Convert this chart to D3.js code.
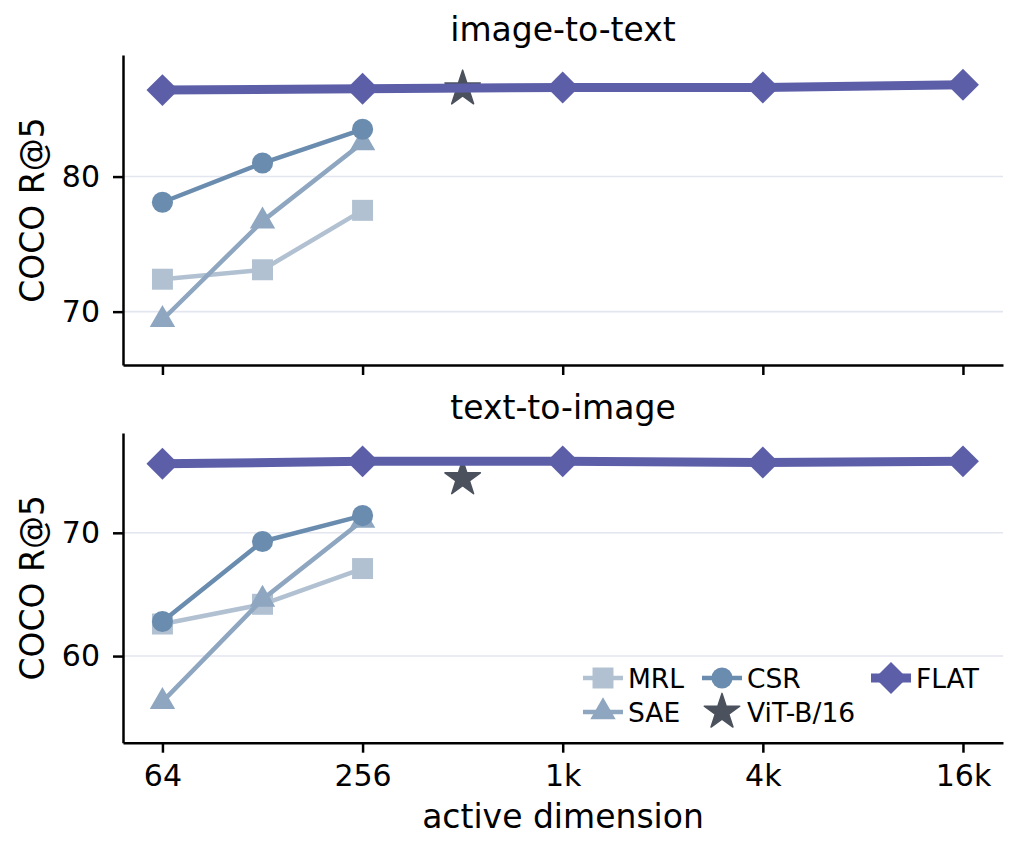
<!DOCTYPE html>
<html>
<head>
<meta charset="utf-8">
<script src="https://cdn.jsdelivr.net/npm/d3@7"></script>
<style>
  html, body { margin: 0; padding: 0; background: #fff; }
  svg text { font-family: "DejaVu Sans", sans-serif; fill: #000; }
</style>
</head>
<body>
<script>
// dimensions on the x axis
const sparseDims = [64, 128, 256];
const flatDims = [64, 256, 1024, 4096, 16384];
const vitDim = 512;
const xTicks = [64, 256, 1024, 4096, 16384];
const xTickLabels = ['64', '256', '1k', '4k', '16k'];

// image-to-text COCO R@5
const i2tMRL = [72.4, 73.1, 77.5];
const i2tSAE = [69.4, 76.7, 82.5];
const i2tCSR = [78.1, 81.0, 83.5];
const i2tFLAT = [86.4, 86.5, 86.6, 86.6, 86.8];
const i2tViT = 86.5;

// text-to-image COCO R@5
const t2iMRL = [62.6, 64.2, 67.1];
const t2iSAE = [56.3, 64.6, 71.0];
const t2iCSR = [62.8, 69.3, 71.4];
const t2iFLAT = [75.6, 75.8, 75.8, 75.7, 75.8];
const t2iViT = 74.4;

const yTicksTop = [70, 80];
const yTicksBottom = [60, 70];

const W = 1020, H = 858;
const left = 123, right = 1003;

const colors = {
  MRL: '#b1c1d2',
  SAE: '#8ea6c0',
  CSR: '#6a8cae',
  ViT: '#4b525e',
  FLAT: '#5c5fa8'
};

const svg = d3.select('body').append('svg').attr('width', W).attr('height', H);

const x = d3.scaleLog().base(2).domain([48.7, 21619]).range([left, right]);

const symbols = {
  MRL: { type: d3.symbolSquare, size: 440, rot: 0 },
  SAE: { type: d3.symbolTriangle, size: 280, rot: 0 },
  CSR: { type: d3.symbolCircle, size: 350, rot: 0 },
  ViT: { type: d3.symbolStar, size: 390, rot: 0 },
  FLAT: { type: d3.symbolSquare, size: 510, rot: 45 }
};

function drawSeries(g, y, name, dims, vals, lw) {
  const pts = dims.map((d, i) => [d, vals[i]]);
  if (lw > 0) {
    g.append('path')
     .attr('d', d3.line().x(d => x(d[0])).y(d => y(d[1]))(pts))
     .attr('fill', 'none')
     .attr('stroke', colors[name])
     .attr('stroke-width', lw)
     .attr('stroke-linejoin', 'round');
  }
  const s = symbols[name];
  g.selectAll(null)
   .data(pts)
   .enter()
   .append('path')
   .attr('d', d3.symbol().type(s.type).size(s.size))
   .attr('transform', d => 'translate(' + x(d[0]) + ',' + y(d[1]) + ') rotate(' + s.rot + ')')
   .attr('fill', colors[name])
   .attr('stroke', colors[name])
   .attr('stroke-width', name === 'ViT' ? 1.5 : 0)
   .attr('stroke-linejoin', 'round');
}

function panel(top, bottom, domain, yTicks, title, data, showX) {
  const y = d3.scaleLinear().domain(domain).range([bottom, top]);
  const g = svg.append('g');

  // grid
  g.selectAll(null)
   .data(yTicks)
   .enter()
   .append('line')
   .attr('x1', left).attr('x2', right)
   .attr('y1', d => y(d)).attr('y2', d => y(d))
   .attr('stroke', '#e4e6ef')
   .attr('stroke-width', 1.6);

  drawSeries(g, y, 'MRL', sparseDims, data.MRL, 4.5);
  drawSeries(g, y, 'SAE', sparseDims, data.SAE, 4.5);
  drawSeries(g, y, 'CSR', sparseDims, data.CSR, 4.5);
  drawSeries(g, y, 'ViT', [vitDim], [data.ViT], 0);
  drawSeries(g, y, 'FLAT', flatDims, data.FLAT, 9);

  const yAxis = d3.axisLeft(y).tickValues(yTicks).tickSize(10).tickPadding(13).tickSizeOuter(0);
  const ya = g.append('g').attr('transform', 'translate(' + left + ',0)').call(yAxis);
  ya.select('.domain').attr('stroke-width', 2.5);
  ya.selectAll('.tick line').attr('stroke-width', 2.5);
  ya.selectAll('.tick text').style('font-size', '30px').style('font-family', '"DejaVu Sans"');

  const xAxis = d3.axisBottom(x).tickValues(xTicks)
                  .tickFormat((d, i) => showX ? xTickLabels[i] : '')
                  .tickSize(10).tickPadding(12).tickSizeOuter(0);
  const xa = g.append('g').attr('transform', 'translate(0,' + bottom + ')').call(xAxis);
  xa.select('.domain').attr('stroke-width', 2.5);
  xa.selectAll('.tick line').attr('stroke-width', 2.5);
  xa.selectAll('.tick text').style('font-size', '30px').style('font-family', '"DejaVu Sans"');

  g.append('text')
   .attr('x', (left + right) / 2).attr('y', top - 14)
   .attr('text-anchor', 'middle')
   .style('font-size', '33px')
   .text(title);

  g.append('text')
   .attr('transform', 'translate(44,' + ((top + bottom) / 2) + ') rotate(-90)')
   .attr('text-anchor', 'middle')
   .style('font-size', '33px')
   .text('COCO R@5');
  return y;
}

panel(55, 365, [66.05, 89.0], yTicksTop, 'image-to-text',
      { MRL: i2tMRL, SAE: i2tSAE, CSR: i2tCSR, FLAT: i2tFLAT, ViT: i2tViT }, false);
panel(433, 742.7, [52.97, 78.1], yTicksBottom, 'text-to-image',
      { MRL: t2iMRL, SAE: t2iSAE, CSR: t2iCSR, FLAT: t2iFLAT, ViT: t2iViT }, true);

svg.append('text')
   .attr('x', (left + right) / 2).attr('y', 828)
   .attr('text-anchor', 'middle')
   .style('font-size', '33px')
   .text('active dimension');

// legend
const legendItems = [
  { name: 'MRL', label: 'MRL', col: 0, row: 0, lw: 4.5 },
  { name: 'SAE', label: 'SAE', col: 0, row: 1, lw: 4.5 },
  { name: 'CSR', label: 'CSR', col: 1, row: 0, lw: 4.5 },
  { name: 'ViT', label: 'ViT-B/16', col: 1, row: 1, lw: 0 },
  { name: 'FLAT', label: 'FLAT', col: 2, row: 0, lw: 9 }
];
const colX = [583, 702, 871];
const rowY = [678, 712];
const lg = svg.append('g');
legendItems.forEach(it => {
  const x0 = colX[it.col], y0 = rowY[it.row];
  if (it.lw > 0) {
    lg.append('line')
      .attr('x1', x0).attr('x2', x0 + 40).attr('y1', y0).attr('y2', y0)
      .attr('stroke', colors[it.name]).attr('stroke-width', it.lw);
  }
  const s = symbols[it.name];
  lg.append('path')
    .attr('d', d3.symbol().type(s.type).size(s.size))
    .attr('transform', 'translate(' + (x0 + 20) + ',' + y0 + ') rotate(' + s.rot + ')')
    .attr('fill', colors[it.name])
    .attr('stroke', colors[it.name])
    .attr('stroke-width', it.name === 'ViT' ? 1.5 : 0)
    .attr('stroke-linejoin', 'round');
  lg.append('text')
    .attr('x', x0 + 45).attr('y', y0 + 9.5)
    .style('font-size', '26.5px')
    .text(it.label);
});
</script>
</body>
</html>
